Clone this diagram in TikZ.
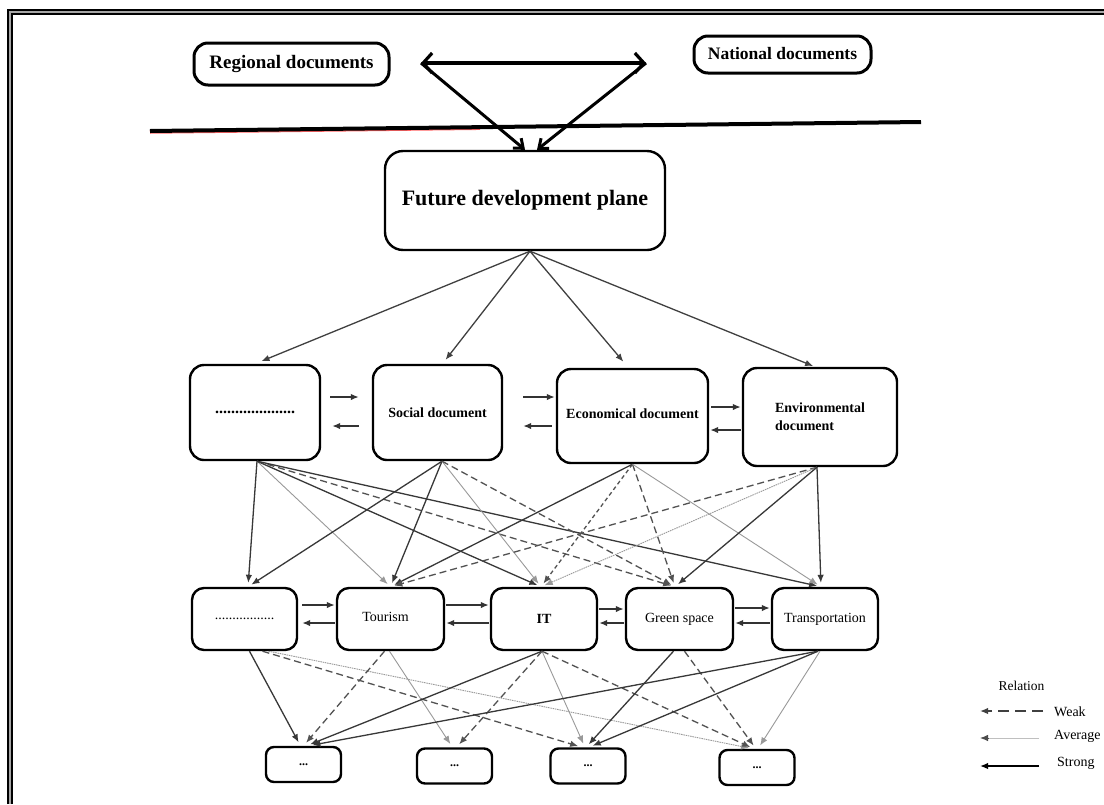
\documentclass[tikz,border=0pt]{standalone}
\usepackage{fontspec}
\setmainfont{Liberation Serif}
\usetikzlibrary{arrows.meta}
\begin{document}
\begin{tikzpicture}[x=1pt,y=-1pt,
  box/.style={draw=black, line width=2.4pt, rounded corners=14pt, fill=white, inner sep=0pt, align=center},
  tip/.style={-{Latex[length=8pt,width=6.5pt]}},
  strong/.style={tip, draw=black!78, line width=1.3pt, shorten >=4pt},
  weak/.style={tip, draw=black!68, line width=1.3pt, dash pattern=on 7pt off 4pt, shorten >=4pt},
  avg/.style={tip, draw=black!40, line width=0.9pt, shorten >=4pt},
  harrow/.style={tip, draw=black!80, line width=1.5pt},
  bigbarb/.style={line width=3.2pt, line cap=round, line join=round},
  legtxt/.style={font=\fontsize{14}{16}\selectfont, inner sep=0pt}
]
\useasboundingbox (0,0) rectangle (1104,804);
\fill[white] (0,0) rectangle (1104,804);

% frame
\draw[black!35, line width=1.2pt] (10,804) -- (10,12) -- (1104,12);
\draw[line width=2pt] (8,804) -- (8,10) -- (1104,10);
\draw[line width=2pt] (12,804) -- (12,14) -- (1104,14);

% separator line
\coordinate (sepL) at (150,131);
\coordinate (sepR) at (921,122);
\draw[red!60, line width=3.5pt] (150,132) -- (480,128.2);
\draw[black, line width=4pt] (sepL) -- (sepR);

% top nodes
\node[box, line width=3pt, minimum width=195pt, minimum height=42pt, font=\fontsize{19}{22}\selectfont\bfseries] (reg) at (291.5,64) {\raisebox{3pt}{Regional documents}};
\node[box, line width=3pt, minimum width=177pt, minimum height=37pt, font=\fontsize{17.5}{20}\selectfont\bfseries] (nat) at (782.5,54.5) {\raisebox{2pt}{National documents}};
\node[box, rounded corners=18pt, minimum width=280pt, minimum height=99pt, font=\fontsize{22}{26}\selectfont\bfseries] (fut) at (525,200.5) {Future development plane};

\coordinate (L) at (421,63);
\coordinate (R) at (646,63);
\draw[bigbarb, {Straight Barb[length=9pt,width=20pt]}-{Straight Barb[length=9pt,width=20pt]}] (L) -- (R);
\draw[line width=3pt, -{Straight Barb[length=8pt,width=13pt]}] (L) -- (fut.north);
\draw[line width=3pt, -{Straight Barb[length=8pt,width=13pt]}] (R) -- ([xshift=12pt]fut.north);

% row 2
\node[box, minimum width=130pt, minimum height=95pt, font=\fontsize{16}{18}\selectfont\bfseries] (a2) at (255,412.5) {....................};
\node[box, minimum width=129pt, minimum height=95pt, font=\fontsize{14}{16}\selectfont\bfseries] (b2) at (437.5,412.5) {Social document};
\node[box, minimum width=151pt, minimum height=94pt, font=\fontsize{14}{16}\selectfont\bfseries] (c2) at (632.5,416) {\raisebox{5pt}{Economical document}};
\node[box, minimum width=154pt, minimum height=98pt, align=left, font=\fontsize{14}{18}\selectfont\bfseries] (d2) at (820,417) {Environmental\\document\hspace{8pt}};

% future to row 2
\coordinate (fs) at ([xshift=5pt]fut.south);
\draw[harrow, draw=black!75, line width=1.3pt, shorten >=7pt] (fs) -- (a2.north);
\draw[harrow, draw=black!75, line width=1.3pt, shorten >=5pt] (fs) -- ([xshift=5pt]b2.north);
\draw[harrow, draw=black!75, line width=1.3pt, shorten >=8pt] (fs) -- ([xshift=-4pt]c2.north);
\draw[harrow, draw=black!75, line width=1.3pt, shorten >=2pt] (fs) -- ([xshift=-5pt]d2.north);

% row 2 horizontal arrows
\draw[harrow, shorten <=9pt, shorten >=13pt] ([yshift=15.5pt]a2.east) -- ([yshift=15.5pt]b2.west);
\draw[harrow, shorten <=13pt, shorten >=11pt] ([yshift=-13.5pt]b2.west) -- ([yshift=-13.5pt]a2.east);
\draw[harrow, shorten <=20pt, shorten >=1pt] ([yshift=15.5pt]b2.east) -- ([yshift=19pt]c2.west);
\draw[harrow, shorten <=4pt, shorten >=20pt] ([yshift=-10pt]c2.west) -- ([yshift=-13.5pt]b2.east);
\draw[harrow, shorten <=2pt, shorten >=1pt] ([yshift=9pt]c2.east) -- ([yshift=10pt]d2.west);
\draw[harrow, shorten <=1pt, shorten >=1pt] ([yshift=-13pt]d2.west) -- ([yshift=-14pt]c2.east);

% row 3
\begin{scope}[every node/.style={box, rounded corners=12pt, minimum height=62pt, font=\fontsize{14}{16}\selectfont}]
\node[minimum width=105pt] (p3) at (244.5,619) {.................};
\node[minimum width=107pt] (q3) at (390.5,619) {\raisebox{5pt}{Tourism\hspace{10pt}}};
\node[minimum width=106pt, font=\fontsize{14}{16}\selectfont\bfseries] (r3) at (544,619) {IT};
\node[minimum width=107pt] (s3) at (679.5,619) {Green space};
\node[minimum width=106pt] (t3) at (825,619) {Transportation};
\end{scope}

% row 3 horizontal arrows
\draw[harrow, shorten <=4pt, shorten >=1pt] ([yshift=14pt]p3.east) -- ([yshift=14pt]q3.west);
\draw[harrow, shorten <=1pt, shorten >=4pt] ([yshift=-4pt]q3.west) -- ([yshift=-4pt]p3.east);
\draw[harrow, shorten <=1pt, shorten >=1pt] ([yshift=14pt]q3.east) -- ([yshift=14pt]r3.west);
\draw[harrow, shorten <=1pt, shorten >=1pt] ([yshift=-4pt]r3.west) -- ([yshift=-4pt]q3.east);
\draw[harrow, shorten <=1pt, shorten >=1pt] ([yshift=10pt]r3.east) -- ([yshift=10pt]s3.west);
\draw[harrow, shorten <=1pt, shorten >=1pt] ([yshift=-4pt]s3.west) -- ([yshift=-4pt]r3.east);
\draw[harrow, shorten <=1pt, shorten >=1pt] ([yshift=11pt]s3.east) -- ([yshift=11pt]t3.west);
\draw[harrow, shorten <=1pt, shorten >=1pt] ([yshift=-4pt]t3.west) -- ([yshift=-4pt]s3.east);

% row 4
\begin{scope}[every node/.style={box, rounded corners=8pt, minimum width=75pt, minimum height=35pt, font=\fontsize{12}{14}\selectfont\bfseries}]
\node (w1) at (303.5,764.5) {...};
\node (w2) at (454.5,766) {...};
\node (w3) at (588,766) {...};
\node (w4) at (757,767.5) {...};
\end{scope}

% row 2 -> row 3
\coordinate (sA) at ([xshift=2pt]a2.south);
\coordinate (sB) at ([xshift=4.5pt]b2.south);
\coordinate (sC) at (c2.south);
\coordinate (sD) at ([xshift=-3pt]d2.south);
\coordinate (tP) at ([xshift=3.5pt]p3.north);
\coordinate (tQ) at (q3.north);
\coordinate (tR) at ([xshift=-3pt]r3.north);
\coordinate (tS) at ([xshift=-4.5pt]s3.north);
\coordinate (tT) at ([xshift=-4pt]t3.north);

\draw[strong] (sA) -- (tP);
\draw[avg]    (sA) -- (tQ);
\draw[strong] (sA) -- (tR);
\draw[weak]   (sA) -- (tS);
\draw[strong] (sA) -- (tT);
\draw[strong] (sB) -- (tP);
\draw[strong] (sB) -- (tQ);
\draw[avg]    (sB) -- (tR);
\draw[weak]   (sB) -- (tS);
\draw[strong] (sC) -- (tQ);
\draw[weak, dash pattern=on 4pt off 3pt] (sC) -- (tR);
\draw[weak]   (sC) -- (tS);
\draw[avg]    (sC) -- (tT);
\draw[weak]   (sD) -- (tQ);
\draw[avg, dash pattern=on 1.5pt off 0.8pt] (sD) -- (tR);
\draw[strong] (sD) -- (tS);
\draw[strong] (sD) -- (tT);

% row 3 -> row 4
\coordinate (pA) at ([xshift=5pt]p3.south);
\coordinate (pB) at ([xshift=18pt]p3.south);
\coordinate (pC) at ([xshift=24pt]p3.south);
\coordinate (qA) at ([xshift=-6pt]q3.south);
\coordinate (qB) at ([xshift=-1pt]q3.south);
\coordinate (rA) at ([xshift=-2pt]r3.south);
\coordinate (sa) at ([xshift=-6pt]s3.south);
\coordinate (sb) at ([xshift=5pt]s3.south);
\coordinate (ta) at ([xshift=-7pt]t3.south);
\coordinate (tb) at ([xshift=-5pt]t3.south);

\draw[strong] (pA) -- ([xshift=-3pt]w1.north);
\draw[weak]   (pB) -- ([xshift=-6pt]w3.north);
\draw[avg, dash pattern=on 1.5pt off 0.8pt] (pC) -- ([xshift=-4pt]w4.north);
\draw[weak]   (qA) -- ([xshift=0pt]w1.north);
\draw[avg]    (qB) -- ([xshift=-2pt]w2.north);
\draw[strong] (rA) -- ([xshift=3pt]w1.north);
\draw[weak]   (rA) -- ([xshift=2pt]w2.north);
\draw[avg]    (rA) -- ([xshift=-3pt]w3.north);
\draw[weak]   (rA) -- ([xshift=-3pt]w4.north);
\draw[strong] (sa) -- ([xshift=-2pt]w3.north);
\draw[weak]   (sb) -- ([xshift=-1pt]w4.north);
\draw[strong] (ta) -- ([xshift=5pt]w1.north);
\draw[strong] (ta) -- ([xshift=1pt]w3.north);
\draw[avg]    (tb) -- ([xshift=1pt]w4.north);

% legend
\node[legtxt, font=\fontsize{13.5}{16}\selectfont] (rel) at (1021.5,686) {Relation};
\node[legtxt, anchor=west] (wk) at (1054,712) {Weak};
\node[legtxt, anchor=west] (av) at (1054,736) {Average};
\node[legtxt, anchor=west] (sg) at (1057,763) {Strong};
\coordinate (wkS) at (1043,711);
\coordinate (wkT) at (980,711);
\coordinate (avS) at (1039,738);
\coordinate (avT) at (980,738);
\coordinate (sgS) at (1039,766);
\coordinate (sgT) at (980,766);
\draw[tip, draw=black!75, line width=1.5pt, dash pattern=on 11pt off 6pt] (wkS) -- (wkT);
\draw[draw=black!25, line width=1pt] (avS) -- ([xshift=6pt]avT);
\draw[tip, draw=black!70, line width=1pt] ([xshift=8pt]avT) -- (avT);
\draw[tip, draw=black, line width=1.5pt] (sgS) -- (sgT);
\end{tikzpicture}
\end{document}
